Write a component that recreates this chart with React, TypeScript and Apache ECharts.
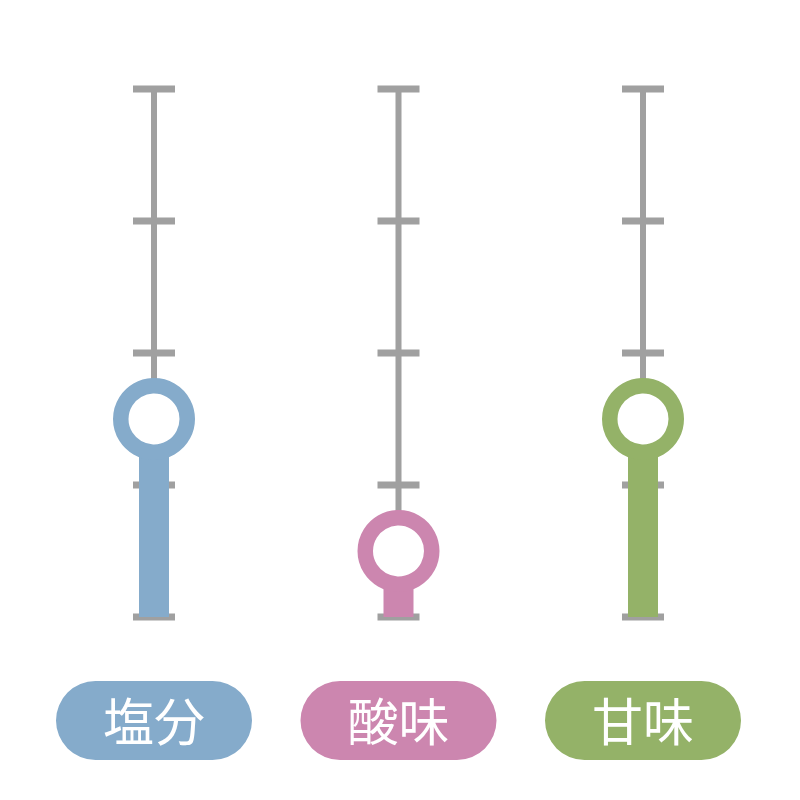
import React, { useEffect, useRef } from "react";
import * as echarts from "echarts";

const categories = ["塩分", "酸味", "甘味"];
const values = [1.5, 0.5, 1.5];
const colors = ["#85ABCB", "#CC86AF", "#94B268"];
const tickValues = [0, 1, 2, 3, 4];
const axisMax = 4;

const GRAY = "#A0A0A0";
const FONT = "'Noto Sans CJK JP', 'Noto Sans CJK SC', sans-serif";

export default function App() {
  const ref = useRef<HTMLDivElement>(null);

  useEffect(() => {
    if (!ref.current) return;
    const chart = echarts.init(ref.current, undefined, { renderer: "svg" });
    const option: any = {
      animation: false,
      backgroundColor: "#ffffff",
      grid: { left: 31.75, width: 733.5, top: 89, height: 528 },
      xAxis: {
        type: "category",
        data: categories,
        show: false,
        boundaryGap: true,
      },
      yAxis: {
        type: "value",
        min: 0,
        max: axisMax,
        interval: 1,
        show: false,
      },
      series: [
        {
          type: "custom",
          z: 1,
          clip: false,
          data: categories.map((_, i) => [i]),
          renderItem: (params: any, api: any) => {
            const i = api.value(0);
            const top = api.coord([i, axisMax]);
            const bottom = api.coord([i, 0]);
            const children: any[] = [
              {
                type: "line",
                shape: { x1: top[0], y1: top[1], x2: bottom[0], y2: bottom[1] },
                style: { stroke: GRAY, lineWidth: 6 },
              },
            ];
            tickValues.forEach((t) => {
              const p = api.coord([i, t]);
              children.push({
                type: "line",
                shape: { x1: p[0] - 21, y1: p[1], x2: p[0] + 21, y2: p[1] },
                style: { stroke: GRAY, lineWidth: 7 },
              });
            });
            return { type: "group", children };
          },
        },
        {
          type: "bar",
          z: 2,
          barWidth: 30,
          data: values.map((v, i) => ({ value: v, itemStyle: { color: colors[i] } })),
        },
        {
          type: "scatter",
          z: 3,
          symbol: "circle",
          symbolSize: 66.5,
          data: values.map((v, i) => ({
            value: v,
            itemStyle: { color: "#ffffff", borderColor: colors[i], borderWidth: 15.5, opacity: 1 },
          })),
        },
        {
          type: "custom",
          z: 4,
          clip: false,
          data: categories.map((_, i) => [i]),
          renderItem: (params: any, api: any) => {
            const i = api.value(0);
            const p = api.coord([i, 0]);
            return {
              type: "group",
              children: [
                {
                  type: "rect",
                  shape: { x: p[0] - 98, y: p[1] + 64, width: 196, height: 79, r: 39.5 },
                  style: { fill: colors[i] },
                },
                {
                  type: "text",
                  style: {
                    text: categories[i],
                    x: p[0],
                    y: p[1] + 102,
                    align: "center",
                    verticalAlign: "middle",
                    fill: "#ffffff",
                    fontSize: 51,
                    fontFamily: FONT,
                  },
                },
              ],
            };
          },
        },
      ],
    };
    chart.setOption(option);
    return () => chart.dispose();
  }, []);

  return (
    <div
      ref={ref}
      style={{ position: "fixed", left: 0, top: 0, width: 800, height: 800 }}
    />
  );
}
